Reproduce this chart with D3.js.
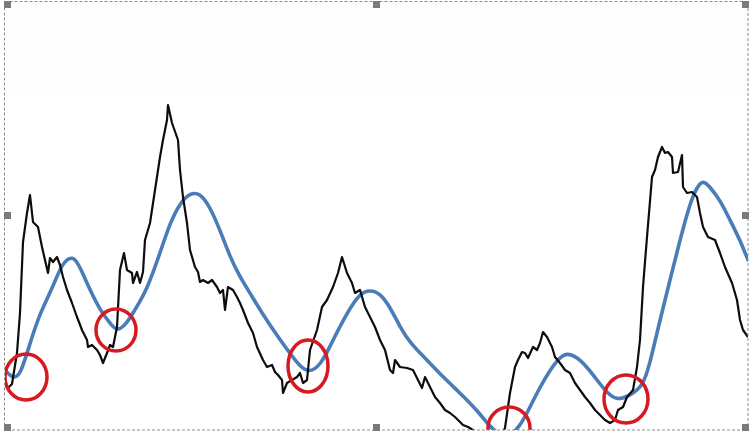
<!DOCTYPE html>
<html><head><meta charset="utf-8">
<script src="https://cdn.jsdelivr.net/npm/d3@7/dist/d3.min.js"></script>
<style>html,body{margin:0;padding:0;background:#fff;}svg{display:block;}</style>
</head><body>
<svg id="c" width="754" height="440"></svg>
<script>
// price series (black)
const priceDays = [5,8,12,17,20,23,27,30,33,38,42,45,48,50,53,57,60,63,67,72,77,82,87,88,92,97,100,103,107,110,113,117,120,124,127,132,133,137,140,143,145,150,155,160,163,167,168,172,178,180,183,187,190,195,198,200,203,208,212,217,220,223,225,228,233,237,240,243,248,253,257,263,267,272,275,278,282,283,287,292,297,300,303,307,310,317,322,327,333,338,342,347,352,355,360,365,370,375,380,385,390,393,395,400,407,413,418,422,425,430,435,440,445,450,455,458,463,468,473,480,490,500,505,510,515,518,522,525,528,533,537,540,543,547,552,555,560,565,570,575,580,585,590,595,600,605,610,615,618,623,627,633,637,640,643,647,652,655,658,662,665,668,672,673,678,682,683,687,692,697,700,703,708,715,720,725,732,737,740,743,748];
const priceLevels = [45,42,46,77,117,188,217,235,208,203,183,170,157,172,168,173,165,153,140,127,113,100,90,83,85,80,75,67,77,85,83,103,160,177,160,157,147,158,147,158,190,207,240,273,290,310,325,307,290,260,233,207,180,163,158,148,150,147,150,143,137,140,120,143,140,133,127,120,107,97,83,70,63,65,58,55,50,37,47,50,53,57,47,50,80,100,123,130,143,157,173,157,147,137,140,123,113,103,90,80,60,57,70,63,62,60,50,42,53,43,33,27,20,17,13,10,5,3,0,-5,-10,-8,2,37,63,70,78,77,72,83,80,87,98,93,83,73,67,60,57,47,40,33,27,20,15,10,7,10,20,23,33,40,63,90,143,193,253,260,273,283,277,278,273,257,258,275,243,237,238,233,217,203,193,190,177,163,147,130,110,100,93];
// moving average (blue)
const avgDays = [5,12,20,30,40,53,62,73,80,90,100,110,117,127,133,147,160,170,180,190,200,210,220,230,240,250,260,280,297,307,320,333,347,360,370,380,390,400,410,427,443,460,477,490,505,520,530,540,550,560,567,577,587,597,607,617,627,643,650,660,670,680,690,697,703,710,720,730,740,748];
const avgLevels = [60,52,53,87,117,143,167,175,163,140,120,107,98,107,117,140,177,207,227,237,237,223,200,173,153,137,120,90,67,57,63,90,117,137,140,137,123,103,87,70,53,37,20,3,-10,3,23,43,60,73,77,73,63,50,37,30,33,43,67,110,150,190,227,243,250,243,230,210,190,170];
// crossover markers
const crossDays = [26,116,308,509,626];
const crossLevels = [53,100,64,2,31];
const crossRx = [21,20,20,21,22];
const crossRy = [23,21,26,21,24];

const svg = d3.select('#c');
const x = d3.scaleLinear().domain([0,743]).range([5,748]);
const y = d3.scaleLinear().domain([0,430]).range([430,0]);

svg.append('rect').attr('width',754).attr('height',440).attr('fill','#fff');
svg.append('rect').attr('x',5).attr('y',2).attr('width',743).attr('height',95).attr('fill','#fdfdfd');

const defs = svg.append('defs');
defs.append('clipPath').attr('id','clip').append('rect')
  .attr('x',5).attr('y',2).attr('width',743).attr('height',428);
const g = svg.append('g').attr('clip-path','url(#clip)');

const price = priceDays.map((d,i)=>[d-5, priceLevels[i]]);
const avg = avgDays.map((d,i)=>[d-5, avgLevels[i]]);

g.append('path').datum(avg)
  .attr('d', d3.line().x(d=>x(d[0])).y(d=>y(d[1])).curve(d3.curveBasis))
  .attr('fill','none').attr('stroke','#4a7cb8').attr('stroke-width',3.6)
  .attr('stroke-linejoin','round').attr('stroke-linecap','round');

g.append('path').datum(price)
  .attr('d', d3.line().x(d=>x(d[0])).y(d=>y(d[1])))
  .attr('fill','none').attr('stroke','#0d0d0d').attr('stroke-width',2.2)
  .attr('stroke-linejoin','round');

g.selectAll('ellipse.cross').data(crossDays).join('ellipse')
  .attr('class','cross')
  .attr('cx',(d)=>x(d-5)).attr('cy',(d,i)=>y(crossLevels[i]))
  .attr('rx',(d,i)=>crossRx[i]).attr('ry',(d,i)=>crossRy[i])
  .attr('fill','none').attr('stroke','#d71a22').attr('stroke-width',3.5);

// selection frame
svg.append('rect').attr('x',4.5).attr('y',1.5).attr('width',743.5).attr('height',428.5)
  .attr('fill','none').attr('stroke','#8c8c8c').attr('stroke-width',1).attr('stroke-dasharray','3,2');
const handles = [[4,1],[373,1],[742,1],[4,212],[742,212],[4,424],[373,424],[742,424]];
svg.selectAll('rect.h').data(handles).join('rect').attr('class','h')
  .attr('x',d=>d[0]).attr('y',d=>d[1]).attr('width',7).attr('height',7).attr('fill','#7a7a7a');
</script>
</body></html>
